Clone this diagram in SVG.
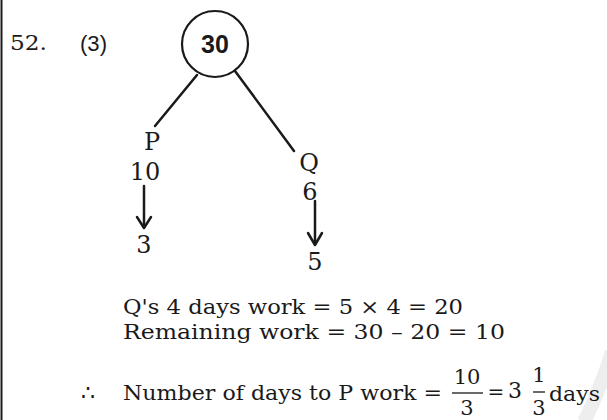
<svg xmlns="http://www.w3.org/2000/svg" width="607" height="420" viewBox="0 0 607 420">
<style>
.s{font-family:"DejaVu Serif","Liberation Serif",serif;fill:#1a1a1a}
.a{font-family:"Liberation Sans",Arial,sans-serif;fill:#1a1a1a}
.ln{stroke:#1a1a1a;stroke-width:2.5;fill:none;stroke-linecap:round}
.ah{stroke:#1a1a1a;stroke-width:2.5;fill:none;stroke-linecap:round;stroke-linejoin:round}
.bar{stroke:#1a1a1a;stroke-width:1.3}
</style>
<rect width="607" height="420" fill="#ffffff"/>
<path d="M612,352 Q600,390 584,422" stroke="#eeeeee" stroke-width="14" fill="none"/>
<line x1="1.5" y1="0" x2="1.5" y2="420" stroke="#1a1a1a" stroke-width="2"/>
<text class="s" x="10" y="50" font-size="21" textLength="37" lengthAdjust="spacingAndGlyphs">52.</text>
<text class="a" x="80" y="51" font-size="22" textLength="27" lengthAdjust="spacingAndGlyphs">(3)</text>
<g id="root">
<circle cx="215" cy="44" r="33" fill="none" stroke="#1a1a1a" stroke-width="2.2"/>
<text class="a" x="215" y="53" font-size="25" font-weight="bold" text-anchor="middle">30</text>
</g>
<g id="connectors">
<line class="ln" x1="197" y1="75" x2="155" y2="126"/>
<line class="ln" x1="235" y1="71" x2="294" y2="151"/>
<line class="ln" x1="144" y1="186" x2="144" y2="227"/>
<polyline class="ah" points="137,217 144,228 151,217"/>
<line class="ln" x1="315" y1="201" x2="315" y2="244"/>
<polyline class="ah" points="308,233 315,245 322,233"/>
</g>
<g id="P">
<text class="s" x="152" y="150" font-size="24" text-anchor="middle">P</text>
<text class="s" x="145" y="180" font-size="24" text-anchor="middle">10</text>
</g>
<g id="P3"><text class="s" x="144" y="253" font-size="24" text-anchor="middle">3</text></g>
<g id="Q">
<text class="s" x="309" y="171" font-size="24" text-anchor="middle">Q</text>
<text class="s" x="310" y="200" font-size="24" text-anchor="middle">6</text>
</g>
<g id="Q5"><text class="s" x="315" y="270" font-size="24" text-anchor="middle">5</text></g>
<text class="s" x="123" y="314" font-size="20" textLength="340" lengthAdjust="spacingAndGlyphs">Q's 4 days work = 5 × 4 = 20</text>
<text class="s" x="123" y="339" font-size="20" textLength="382" lengthAdjust="spacingAndGlyphs">Remaining work = 30 – 20 = 10</text>
<text class="s" x="81" y="400" font-size="22">∴</text>
<text class="s" x="123" y="400" font-size="21" textLength="319" lengthAdjust="spacingAndGlyphs">Number of days to P work =</text>
<text class="s" x="467" y="384" font-size="21" text-anchor="middle">10</text>
<line class="bar" x1="452" y1="393" x2="483" y2="393"/>
<text class="s" x="467" y="415" font-size="21" text-anchor="middle">3</text>
<text class="s" x="496" y="399" font-size="20" text-anchor="middle">=</text>
<text class="s" x="515" y="398" font-size="22" text-anchor="middle">3</text>
<text class="s" x="539" y="382" font-size="21" text-anchor="middle">1</text>
<line class="bar" x1="533" y1="392" x2="545" y2="392"/>
<text class="s" x="539" y="415" font-size="21" text-anchor="middle">3</text>
<text class="s" x="549" y="401" font-size="21" textLength="51" lengthAdjust="spacingAndGlyphs">days</text>
</svg>
